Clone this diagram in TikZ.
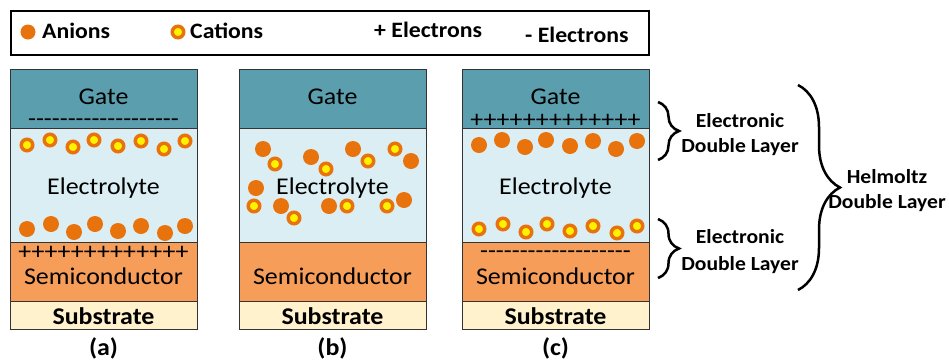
\documentclass[tikz,border=0pt]{standalone}
\usepackage{fontspec}
\setmainfont{Carlito}[FakeStretch=1.08]
\usetikzlibrary{decorations.pathreplacing}

\definecolor{gatecol}{RGB}{91,158,174}
\definecolor{elytecol}{RGB}{219,238,243}
\definecolor{semicol}{RGB}{247,157,90}
\definecolor{subcol}{RGB}{255,242,204}
\definecolor{ioncol}{RGB}{232,114,12}

% one row of surface charges
\newcommand{\minusrow}{-{}-{}-{}-{}-{}-{}-{}-{}-{}-{}-{}-{}-{}-{}-{}-{}-{}-{}-}
\newcommand{\plusrow}{+++++++++++++}

\tikzset{
	layer/.style={draw=black!80, line width=0.8bp, anchor=north west, minimum width=187bp, inner sep=0pt},
	anion/.style={circle, fill=ioncol, inner sep=0pt, minimum size=16bp},
	cation/.style={circle, draw=ioncol, fill=yellow, line width=3.5bp, inner sep=0pt, minimum size=11.5bp},
	bigtxt/.style={font=\fontsize{24bp}{28bp}\selectfont, anchor=base, inner sep=0pt},
	boldtxt/.style={font=\fontsize{24bp}{28bp}\selectfont\bfseries, anchor=base, inner sep=0pt},
	keytxt/.style={font=\fontsize{22bp}{26bp}\selectfont\bfseries, anchor=base west, inner sep=0pt},
	bracetxt/.style={font=\fontsize{20bp}{24bp}\selectfont\bfseries, anchor=base, inner sep=0pt},
	curly/.style={decorate, decoration={brace, amplitude=#1}, line width=2.5bp},
}

\begin{document}
\begin{tikzpicture}[x=1bp, y=-1bp]
	\useasboundingbox (0,0) rectangle (949,360);
	
	% Legend
	\node[draw, line width=2bp, anchor=north west, minimum width=638bp, minimum height=44bp] (legend) at (10,10) {};
	\node[anion, minimum size=15bp] (key-an) at (28,32) {};
	\node[keytxt] (key-antxt) at (42,38) {Anions};
	\node[cation] (key-cat) at (178,32) {};
	\node[keytxt] (key-cattxt) at (190,38) {Cations};
	\node[keytxt] (key-plus) at (374,37) {+ Electrons};
	\node[keytxt] (key-minus) at (525,42) {- Electrons};
	
	% Layer stacks
	\foreach \px/\p in {10/a, 239/b, 462/c} {
		\node[layer, fill=gatecol, minimum height=59bp] (gate-\p) at (\px,69) {};
		\node[layer, fill=elytecol, minimum height=114bp] (elyte-\p) at (\px,128) {};
		\node[layer, fill=semicol, minimum height=59bp] (semi-\p) at (\px,242) {};
		\node[layer, fill=subcol, minimum height=28bp] (sub-\p) at (\px,301) {};
		\node[bigtxt] (gatetxt-\p) at (\px+93.5,104) {Gate};
		\node[bigtxt] (semitxt-\p) at (\px+93.5,284) {Semiconductor};
		\node[boldtxt] (subtxt-\p) at (\px+93.5,324) {Substrate};
		\node[boldtxt] (lab-\p) at (\px+93.5,355) {(\p)};
	}
	
	% Ion rows at the interfaces, (a) and (c)
	\foreach \dx/\y [count=\i] in {17/145, 40/140, 63/147, 84/140, 108/146, 131/141, 154/149, 175/141} {
		\node[cation] (cat-a\i) at (10+\dx,\y) {};
		\node[anion] (an-c\i) at (462+\dx,\y) {};
	}
	\foreach \dx/\y [count=\i] in {17/229, 41/224, 64/232, 85/224, 108/231, 131/226, 155/233, 175/226} {
		\node[anion] (an-a\i) at (10+\dx,\y) {};
		\node[cation] (cat-c\i) at (462+\dx,\y) {};
	}
	
	% Free ions, (b)
	\foreach \x/\y [count=\i] in {263/149, 311/157, 353/149, 411/161, 256/188, 281/206, 329/206, 404/200} {
		\node[anion] (an-b\i) at (\x,\y) {};
	}
	\foreach \x/\y [count=\i] in {275/164, 326/169, 368/161, 395/149, 254/206, 294/218, 347/206, 387/206} {
		\node[cation] (cat-b\i) at (\x,\y) {};
	}
	
	\foreach \px/\p in {10/a, 239/b, 462/c} {
		\node[bigtxt] (elytetxt-\p) at (\px+93.5,194) {Electrolyte};
	}
	
	% Surface charges
	\node[bigtxt] (minus-a) at (103.5,126.6) {\minusrow};
	\node[bigtxt] (plus-a) at (103.5,259.7) {\plusrow};
	\node[bigtxt] (plus-c) at (555.5,127.3) {\plusrow};
	\node[bigtxt] (minus-c) at (555.5,258.3) {\minusrow};
	
	% Braces
	\coordinate (edl1-top) at (658,102);
	\coordinate (edl1-bot) at (658,160);
	\coordinate (edl2-top) at (658,219);
	\coordinate (edl2-bot) at (658,278);
	\coordinate (hdl-top) at (798,85);
	\coordinate (hdl-bot) at (798,290);
	\draw[curly=21bp] (edl1-top) -- (edl1-bot);
	\draw[curly=21bp] (edl2-top) -- (edl2-bot);
	\draw[curly=42bp] (hdl-top) -- (hdl-bot);
	
	\node[bracetxt] (edl1-l1) at (740,127) {Electronic};
	\node[bracetxt] (edl1-l2) at (740,152) {Double Layer};
	\node[bracetxt] (edl2-l1) at (740,243) {Electronic};
	\node[bracetxt] (edl2-l2) at (740,270) {Double Layer};
	\node[bracetxt] (hdl-l1) at (887,183) {Helmoltz};
	\node[bracetxt] (hdl-l2) at (887,208) {Double Layer};
	
\end{tikzpicture}
\end{document}
